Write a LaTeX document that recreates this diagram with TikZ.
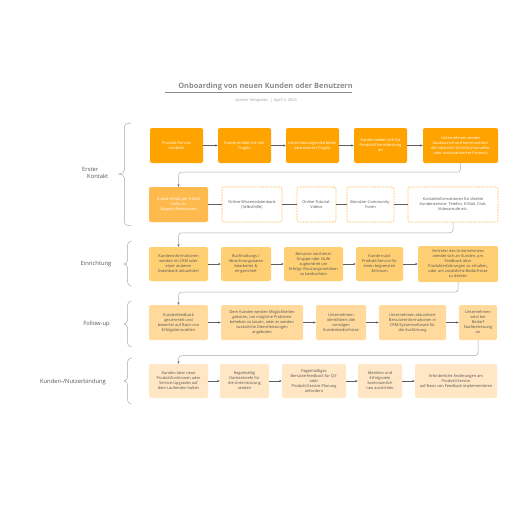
\documentclass[tikz,border=0pt]{standalone}
\usepackage{fontspec}
\setmainfont{Open Sans}
\usetikzlibrary{arrows.meta}
\definecolor{cA}{HTML}{FFA300}
\definecolor{cB}{HTML}{FFBA4F}
\definecolor{cC}{HTML}{FFCF73}
\definecolor{cD}{HTML}{FFDA9C}
\definecolor{cE}{HTML}{FFE6C4}
\definecolor{txt}{HTML}{555555}
\definecolor{ttl}{HTML}{8A8A8A}
\definecolor{conn}{HTML}{AAAAAA}
\definecolor{arrc}{HTML}{5E5E5E}
\newcommand\mybrace[6]{% xe xs xt yt yb ym
  \draw[bracestyle] (#1,#4) to[out=180,in=90] (#2,#4+4) -- (#2,#6-4)
    to[out=-90,in=0] (#3,#6) to[out=0,in=90] (#2,#6+4) -- (#2,#5-4)
    to[out=-90,in=180] (#1,#5);}
\begin{document}
\begin{tikzpicture}[x=1pt,y=-1pt,
  box/.style={rounded corners=2pt, align=center, inner sep=1pt,
    font=\fontsize{3.9}{5}\selectfont, text=txt},
  boxA/.style={box, fill=cA, text=white},
  boxB/.style={box, fill=cB, text=white},
  boxDash/.style={box, fill=white, draw=cB, line width=0.6pt, dash pattern=on 1.6pt off 1.1pt},
  boxC/.style={box, fill=cC},
  boxD/.style={box, fill=cD},
  boxE/.style={box, fill=cE},
  arr/.style={draw=arrc, line width=0.5pt, -{Stealth[length=2.6pt,width=2.2pt]}},
  plain/.style={draw=arrc, line width=0.5pt},
  longconn/.style={draw=conn, line width=0.5pt, rounded corners=3pt, -{Stealth[length=2.6pt,width=2.2pt,color=arrc]}},
  bracestyle/.style={draw=conn, line width=0.5pt},
  lbl/.style={font=\fontsize{5.8}{7}\selectfont, text=txt, inner sep=0pt}
]
\useasboundingbox (0,0) rectangle (516,516);

% title
\node[font=\fontsize{7.4}{9}\selectfont\bfseries, text=ttl] (title) at (265.5,87) {Onboarding von neuen Kunden oder Benutzern};
\draw[draw=ttl, line width=0.5pt] (165,92.5) -- (352,92.5);
\node[font=\fontsize{3.9}{5}\selectfont, text=ttl!85] (sub) at (266,100) {System Templates \ | \ April 3, 2025};

% row 1
\node[boxA, minimum width=53pt, minimum height=35pt] (a1) at (176.5,145.5) {Produkt/Service\\entdeckt};
\node[boxA, minimum width=53pt, minimum height=35pt] (a2) at (244.5,145.5) {Kunde meldet sich mit\\Fragen};
\node[boxA, minimum width=53pt, minimum height=35pt] (a3) at (312.5,145.5) {Unterstützungsmitarbeiter\\beantwortet Fragen};
\node[boxA, minimum width=53pt, minimum height=35pt] (a4) at (380.5,145.5) {Kunde meldet sich für\\Produkt/Dienstleistung\\an};
\node[boxA, minimum width=75pt, minimum height=35pt] (a5) at (460.5,145.5) {Unternehmen sendet\\Dankesmail und kommuniziert\\die nächsten Schritte (manueller\\oder automatisierter Prozess)};
\draw[arr] (a1) -- (a2);
\draw[arr] (a2) -- (a3);
\draw[arr] (a3) -- (a4);
\draw[arr] (a4) -- (a5);

% row 2
\node[boxB, minimum width=59pt, minimum height=35pt] (b1) at (178.5,204.5) {Kunde erhält per E-Mail\\Links zu\\Support-Ressourcen};
\node[boxDash, minimum width=60pt, minimum height=35pt] (b2) at (252,204.5) {Online-Wissensdatenbank\\(Selbsthilfe)};
\node[boxDash, minimum width=39pt, minimum height=35pt] (b3) at (316.5,204.5) {Online-Tutorial-\\Videos};
\node[boxDash, minimum width=47pt, minimum height=35pt] (b4) at (370.5,204.5) {Benutzer-Community-\\Foren};
\node[boxDash, minimum width=90pt, minimum height=35pt] (b5) at (453,204.5) {Kontaktinformationen für direkte\\Kundenservice: Telefon, E-Mail, Chat,\\Videoanrufe etc.};
\draw[plain] (b1) -- (b2);
\draw[plain] (b2) -- (b3);
\draw[plain] (b3) -- (b4);
\draw[plain] (b4) -- (b5);

% row 3
\node[boxC, minimum width=59pt, minimum height=34pt] (c1) at (178.5,264) {Kundeninformationen\\werden im CRM oder\\einer anderen\\Datenbank aktualisiert};
\node[boxC, minimum width=50pt, minimum height=34pt] (c2) at (246,264) {Buchhaltungs-/\\Abrechnungsdaten\\bearbeitet \&\\eingerichtet};
\node[boxC, minimum width=59pt, minimum height=34pt] (c3) at (313.5,264) {Benutzer wird einer\\Gruppe oder Stufe\\zugeordnet um\\Erfolgs-/Nutzungsmetriken\\zu beobachten};
\node[boxC, minimum width=47pt, minimum height=34pt] (c4) at (379.5,264) {Kunde nutzt\\Produkt/Service für\\einen begrenzten\\Zeitraum};
\node[boxC, minimum width=80pt, minimum height=36pt] (c5) at (458,264) {Vertreter des Unternehmens\\wendet sich an Kunden, um\\Feedback über\\Produkterfahrungen zu erhalten,\\oder um zusätzliche Bedürfnisse\\zu decken};
\draw[arr] (c1) -- (c2);
\draw[arr] (c2) -- (c3);
\draw[arr] (c3) -- (c4);
\draw[arr] (c4) -- (c5);

% row 4
\node[boxD, minimum width=59pt, minimum height=35pt] (d1) at (178.5,322.5) {Kundenfeedback\\gesammelt und\\bewertet auf Basis von\\Erfolgskennzahlen};
\node[boxD, minimum width=82pt, minimum height=35pt] (d2) at (262,322.5) {Dem Kunden werden Möglichkeiten\\geboten, um mögliche Probleme\\beheben zu lassen, oder es werden\\zusätzliche Dienstleistungen\\angeboten};
\node[boxD, minimum width=50pt, minimum height=35pt] (d3) at (341,322.5) {Unternehmen\\identifiziert alle\\sonstigen\\Kundenbedürfnisse};
\node[boxD, minimum width=67pt, minimum height=35pt] (d4) at (412.5,322.5) {Unternehmen aktualisiert\\Benutzerinformationen in\\CRM/Systemsoftware für\\die Ausführung};
\node[boxD, minimum width=38pt, minimum height=35pt] (d5) at (478,322.5) {Unternehmen\\setzt bei\\Bedarf\\Nachbetreuung\\an};
\draw[arr] (d1) -- (d2);
\draw[arr] (d2) -- (d3);
\draw[arr] (d3) -- (d4);
\draw[arr] (d4) -- (d5);

% row 5
\node[boxE, minimum width=59pt, minimum height=34pt] (e1) at (178.5,381) {Kunden über neue\\Produktfunktionen oder\\Service-Upgrades auf\\dem Laufenden halten};
\node[boxE, minimum width=49pt, minimum height=34pt] (e2) at (244.5,381) {Regelmäßig\\Dankesbriefe für\\die Unterstützung\\senden};
\node[boxE, minimum width=64pt, minimum height=34pt] (e3) at (314,381) {Regelmäßiges\\Benutzerfeedback für Q3-\\oder\\Produkt/Service-Planung\\anfordern};
\node[boxE, minimum width=44pt, minimum height=34pt] (e4) at (380,381) {Metriken und\\Erfolgsziele\\kontinuierlich\\neu ausrichten};
\node[boxE, minimum width=82pt, minimum height=34pt] (e5) at (456,381) {Erforderliche Änderungen am\\Produkt/Service\\auf Basis von Feedback implementieren};
\draw[arr] (e1) -- (e2);
\draw[arr] (e2) -- (e3);
\draw[arr] (e3) -- (e4);
\draw[arr] (e4) -- (e5);

% row-to-row connectors
\draw[longconn] (a5.south) -- ++(0,9) -| (b1.north);
\draw[longconn] (b5.south) -- ++(0,10.5) -| (c1.north);
\draw[longconn] (c5.south) -- ++(0,10) -| (d1.north);
\draw[longconn] (d5.south) -- ++(0,15.5) -| (e1.north);

% braces and labels
\mybrace{131}{124.5}{118.5}{123}{226}{174}
\mybrace{131.5}{127.5}{124}{241}{286}{264}
\mybrace{131.5}{127.5}{124}{301}{347}{324}
\mybrace{131.5}{127.5}{124}{358}{404}{381}
\node[lbl, align=left, anchor=north west] (l1) at (82,167.5) {Erster\\\hspace*{5pt}Kontakt};
\node[lbl] (l2) at (96,264) {Einrichtung};
\node[lbl] (l3) at (96.5,323.5) {Follow-up};
\node[lbl] (l4) at (73,382) {Kunden-/Nutzerbindung};
\end{tikzpicture}
\end{document}
